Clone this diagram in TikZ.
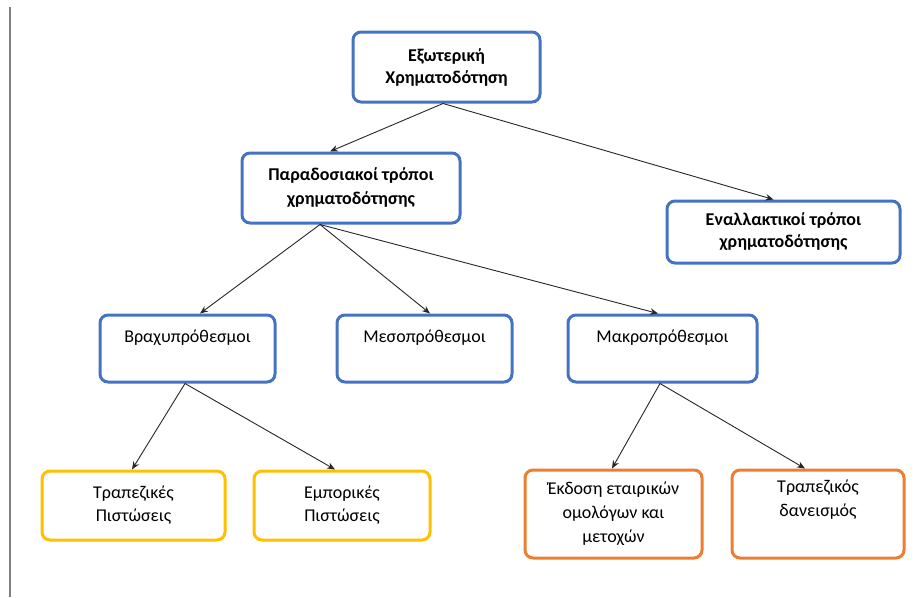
\documentclass[tikz,border=0pt]{standalone}
\usepackage{fontspec}
\setmainfont{Carlito}
\usetikzlibrary{arrows.meta}
\definecolor{bblue}{HTML}{4472C4}
\definecolor{byellow}{HTML}{FFC000}
\definecolor{borange}{HTML}{ED7D31}
\definecolor{lgray}{HTML}{7F7F7F}
\begin{document}
\begin{tikzpicture}[x=1pt,y=-1pt,
  box/.style={line width=3pt, rounded corners=8pt, align=center, inner sep=0pt,
    font=\fontsize{18}{23}\selectfont, text=black},
  bluebox/.style={box, draw=bblue},
  yellowbox/.style={box, draw=byellow},
  orangebox/.style={box, draw=borange, font=\fontsize{18}{24}\selectfont},
  arr/.style={draw=black!85, line width=0.9pt, -{Stealth[length=8pt,width=6.5pt]}}
]
\useasboundingbox (0,0) rectangle (915,597);
\coordinate (ltop) at (10,7);
\coordinate (lbot) at (10,597);
\draw[lgray, line width=1.5pt] (ltop) -- (lbot);

\node[bluebox, minimum width=187pt, minimum height=70pt, font=\fontsize{18}{22}\selectfont\bfseries] (A) at (446.5,67) {Εξωτερική\\Χρηματοδότηση};
\node[bluebox, minimum width=218pt, minimum height=70pt, font=\fontsize{18}{24}\selectfont\bfseries] (B) at (351,188) {Παραδοσιακοί τρόποι\\χρηματοδότησης};
\node[bluebox, minimum width=233pt, minimum height=62pt, font=\fontsize{18}{22}\selectfont\bfseries] (C) at (783.5,232) {Εναλλακτικοί τρόποι\\χρηματοδότησης};

\node[bluebox, minimum width=175pt, minimum height=67pt] (D) at (187.5,348.5) {Βραχυπρόθεσμοι\\[-6pt]\strut};
\node[bluebox, minimum width=175pt, minimum height=67pt] (E) at (424.5,348.5) {Μεσοπρόθεσμοι\\[-6pt]\strut};
\node[bluebox, minimum width=189pt, minimum height=67pt] (F) at (662.5,348.5) {Μακροπρόθεσμοι\\[-6pt]\strut};

\node[yellowbox, minimum width=183pt, minimum height=69pt] (G) at (133.5,505.5) {Τραπεζικές\\Πιστώσεις};
\node[yellowbox, minimum width=176pt, minimum height=69pt] (H) at (342,505.5) {Εμπορικές\\Πιστώσεις};
\node[orangebox, minimum width=177pt, minimum height=88pt] (I) at (613.5,514) {Έκδοση εταιρικών\\ομολόγων και\\μετοχών};
\node[orangebox, minimum width=172pt, minimum height=88pt] (J) at (818,514) {Τραπεζικός\\δανεισμός\\\strut};

\draw[arr] ([xshift=-3.5pt]A.south) -- ([xshift=-21pt]B.north);
\draw[arr] ([xshift=-3.5pt]A.south) -- ([xshift=-10pt]C.north);
\draw[arr] ([xshift=-31pt]B.south) -- ([xshift=12.5pt]D.north);
\draw[arr] ([xshift=-31pt]B.south) -- ([xshift=5.5pt]E.north);
\draw[arr] ([xshift=-31pt]B.south) -- ([xshift=-4.5pt]F.north);
\draw[arr] ([xshift=-2.5pt]D.south) -- ([xshift=-1.5pt]G.north);
\draw[arr] ([xshift=-2.5pt]D.south) -- ([xshift=-7pt]H.north);
\draw[arr] ([xshift=-2.5pt]F.south) -- ([xshift=-1.5pt]I.north);
\draw[arr] ([xshift=-2.5pt]F.south) -- ([xshift=-13pt]J.north);
\end{tikzpicture}
\end{document}
